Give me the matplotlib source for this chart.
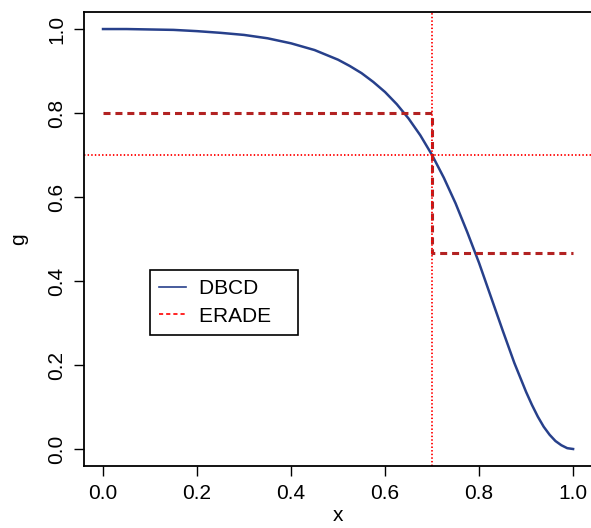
import matplotlib
matplotlib.use("Agg")
import matplotlib.pyplot as plt
from matplotlib.lines import Line2D

# values
x_dbcd = [0.0, 0.05, 0.1, 0.15, 0.2, 0.25, 0.3, 0.35, 0.4, 0.45, 0.5, 0.525,
          0.55, 0.575, 0.6, 0.625, 0.65, 0.675, 0.7, 0.725, 0.75, 0.775, 0.8,
          0.825, 0.85, 0.875, 0.9, 0.9125, 0.925, 0.9375, 0.95, 0.9625,
          0.975, 0.9875, 1.0]
g_dbcd = [1.0, 1.0, 0.999, 0.998, 0.995, 0.991, 0.986, 0.978, 0.966, 0.950, 0.927, 0.912,
          0.895, 0.874, 0.850, 0.821, 0.787, 0.747, 0.700, 0.646, 0.585, 0.516, 0.443,
          0.363, 0.283, 0.205, 0.136, 0.105, 0.077, 0.053, 0.034, 0.019,
          0.009, 0.002, 0.0]

x_erade = [0.0, 0.7, 0.7, 1.0]
g_erade = [0.8, 0.8, 0.467, 0.467]

rho = 0.7
xticks = [0.0, 0.2, 0.4, 0.6, 0.8, 1.0]
yticks = [0.0, 0.2, 0.4, 0.6, 0.8, 1.0]

blue = '#27408B'
dark_red = '#B22222'

plt.rcParams['font.family'] = ['Liberation Sans', 'DejaVu Sans']

fig = plt.figure(figsize=(5.91, 5.28), dpi=100)
ax = fig.add_axes([0.1425, 0.1178, 0.859, 0.859])

ax.plot(x_dbcd, g_dbcd, color=blue, lw=1.8, solid_joinstyle='round')
ax.plot(x_erade, g_erade, color=dark_red, lw=2.2, linestyle=(0, (2.3, 1.6)))
ax.axvline(rho, color='red', lw=1.3, linestyle=(0, (0.8, 1.2)))
ax.axhline(rho, color='red', lw=1.3, linestyle=(0, (0.8, 1.2)))

ax.set_xlim(-0.04, 1.04)
ax.set_ylim(-0.04, 1.04)
ax.set_xticks(xticks)
ax.set_yticks(yticks)
ax.set_xticklabels(['%.1f' % v for v in xticks])
ax.set_yticklabels(['%.1f' % v for v in yticks], rotation=90, va='center')
ax.tick_params(direction='out', length=7, width=1, labelsize=15, pad=6)
ax.tick_params(axis='y', pad=6)
for s in ax.spines.values():
    s.set_linewidth(1.3)
ax.spines['right'].set_visible(False)  # box edge falls outside the image

ax.set_xlabel('x', fontsize=15, labelpad=2)
ax.set_ylabel('g', fontsize=15, labelpad=14)

handles = [Line2D([], [], color=blue, lw=1.2),
           Line2D([], [], color='red', lw=1.2, linestyle=(0, (2.5, 1.8)))]
leg = ax.legend(handles, ['DBCD   ', 'ERADE   '], loc='upper left',
                bbox_to_anchor=(0.1296, 0.4317), borderaxespad=0,
                fancybox=False, edgecolor='black', framealpha=1,
                fontsize=15, handlelength=1.3, handletextpad=0.6,
                labelspacing=0.4, borderpad=0.45)
leg.get_frame().set_linewidth(1.2)

fig.savefig('out.png', dpi=100)
